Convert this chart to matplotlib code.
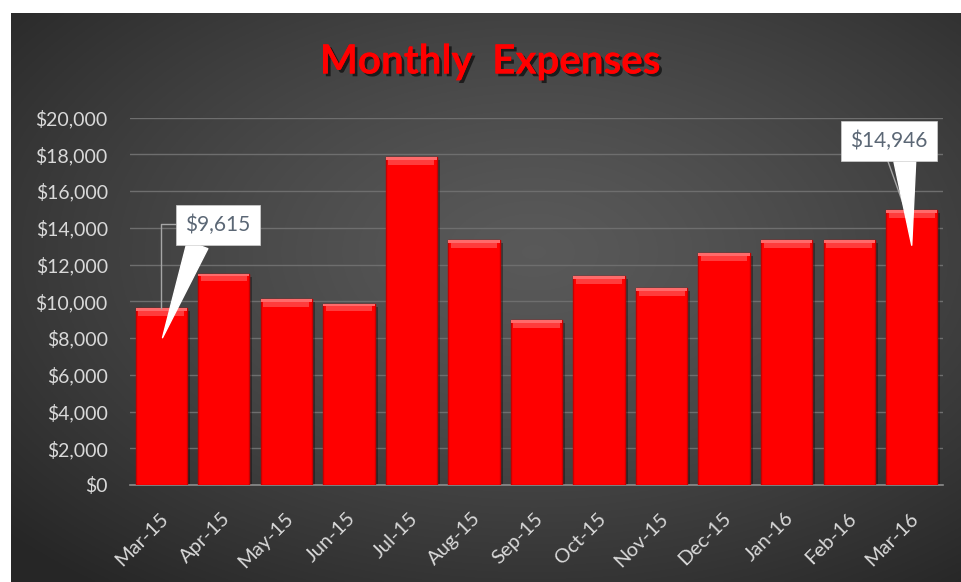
import numpy as np
import matplotlib
matplotlib.use("Agg")
import matplotlib.pyplot as plt
import matplotlib.patheffects as pe
import matplotlib.transforms as mtransforms
from matplotlib.ticker import FuncFormatter

# data
months = ["Mar-15", "Apr-15", "May-15", "Jun-15", "Jul-15", "Aug-15", "Sep-15",
          "Oct-15", "Nov-15", "Dec-15", "Jan-16", "Feb-16", "Mar-16"]
expenses = [9615, 11500, 10100, 9870, 17830, 13320, 8960,
            11380, 10720, 12600, 13320, 13320, 14946]
y_ticks = list(range(0, 20001, 2000))

plt.rcParams["font.family"] = ["Lato", "DejaVu Sans"]

W, H = 962, 582
fig = plt.figure(figsize=(W / 100, H / 100), dpi=100)
fig.patch.set_facecolor("white")

# dark radial-gradient panel behind everything
bg = fig.add_axes([11 / W, 0, (W - 11) / W, (H - 13) / H], zorder=0)
gy, gx = np.mgrid[0:1:300j, 0:1:500j]
r = np.sqrt(((gx - 0.55) / 0.75) ** 2 + ((gy - 0.42) / 0.75) ** 2)
r = np.clip(r, 0, 1)
shade = 0.35 - (0.35 - 0.15) * r ** 1.3
bg.imshow(np.dstack([shade, shade, shade]), aspect="auto",
          extent=[0, 1, 0, 1], origin="upper")
bg.axis("off")

ax = fig.add_axes([130 / W, 97 / H, (943 - 130) / W, 367.5 / H], zorder=1)
ax.set_facecolor("none")

x = np.arange(len(months))
bw = 0.82

# drop shadow
shadow = ax.transData + mtransforms.ScaledTranslation(3 / 100, -3 / 100, fig.dpi_scale_trans)
ax.bar(x, expenses, width=bw, color="black", alpha=0.35, transform=shadow, zorder=2)
ax.bar(x, expenses, width=bw, color="#ff0000", edgecolor="#c80000", linewidth=1, zorder=3)
# bevel highlight on top of each bar
ax.bar(x, [420] * len(x), bottom=[v - 420 for v in expenses], width=bw * 0.9,
       color="#ff3c3c", linewidth=0, zorder=4)
ax.bar(x, [150] * len(x), bottom=[v - 150 for v in expenses], width=bw, color="#ff6a6a",
       linewidth=0, zorder=4)

ax.set_xlim(-0.5, len(months) - 0.5)
ax.set_ylim(0, 20000)
ax.set_yticks(y_ticks)
ax.yaxis.set_major_formatter(FuncFormatter(lambda v, p: "${:,.0f}".format(v)))
ax.grid(axis="y", color="#6e6e6e", linewidth=1)
ax.set_axisbelow(True)
for s in ["top", "right", "left"]:
    ax.spines[s].set_visible(False)
ax.spines["bottom"].set_color("#8c8c8c")
ax.spines["bottom"].set_linewidth(1.2)
ax.tick_params(axis="y", length=0, pad=16, labelsize=14, labelcolor="#d9d9d9")
ax.tick_params(axis="x", length=0, pad=4, labelsize=14.5, labelcolor="#d9d9d9")
ax.set_xticks(x)
ax.set_xticklabels(months, rotation=45, ha="right", rotation_mode="anchor")
off = mtransforms.ScaledTranslation(-2 / 100, -19 / 100, fig.dpi_scale_trans)
for lab in ax.get_xticklabels():
    lab.set_transform(lab.get_transform() + off)

# title
fig.text(490 / W, 1 - 62 / H, "Monthly  Expenses", ha="center", va="center",
         fontsize=29, fontweight="bold", color="#ff0000",
         path_effects=[pe.withSimplePatchShadow(offset=(2, -2), shadow_rgbFace="black", alpha=0.6),
                       pe.Normal()])

# callouts
box = dict(boxstyle="square,pad=0.45", fc="white", ec="#d0d0d0", lw=0.5)
first, last = expenses[0], expenses[-1]

ax.plot([0, 0, 0.22], [first, 14200, 14200], color="#a6a6a6", lw=1, zorder=5)
ax.annotate("${:,.0f}".format(first), xy=(0.02, first - 1600), xytext=(0.9, 14150),
            ha="center", va="center", fontsize=15, color="#5b6775", zorder=6,
            bbox=box,
            arrowprops=dict(arrowstyle="wedge,tail_width=1.05", fc="white", ec="white",
                            relpos=(0.25, 0), shrinkA=0, shrinkB=0))

ax.plot([11.6, 11.9], [17800, last], color="#a6a6a6", lw=1, zorder=5)
ax.annotate("${:,.0f}".format(last), xy=(12.0, last - 1900), xytext=(11.63, 18720),
            ha="center", va="center", fontsize=15, color="#5b6775", zorder=6,
            bbox=box,
            arrowprops=dict(arrowstyle="wedge,tail_width=1.05", fc="white", ec="white",
                            relpos=(0.7, 0), shrinkA=0, shrinkB=0))

fig.savefig("out.png", dpi=100, facecolor=fig.get_facecolor())
